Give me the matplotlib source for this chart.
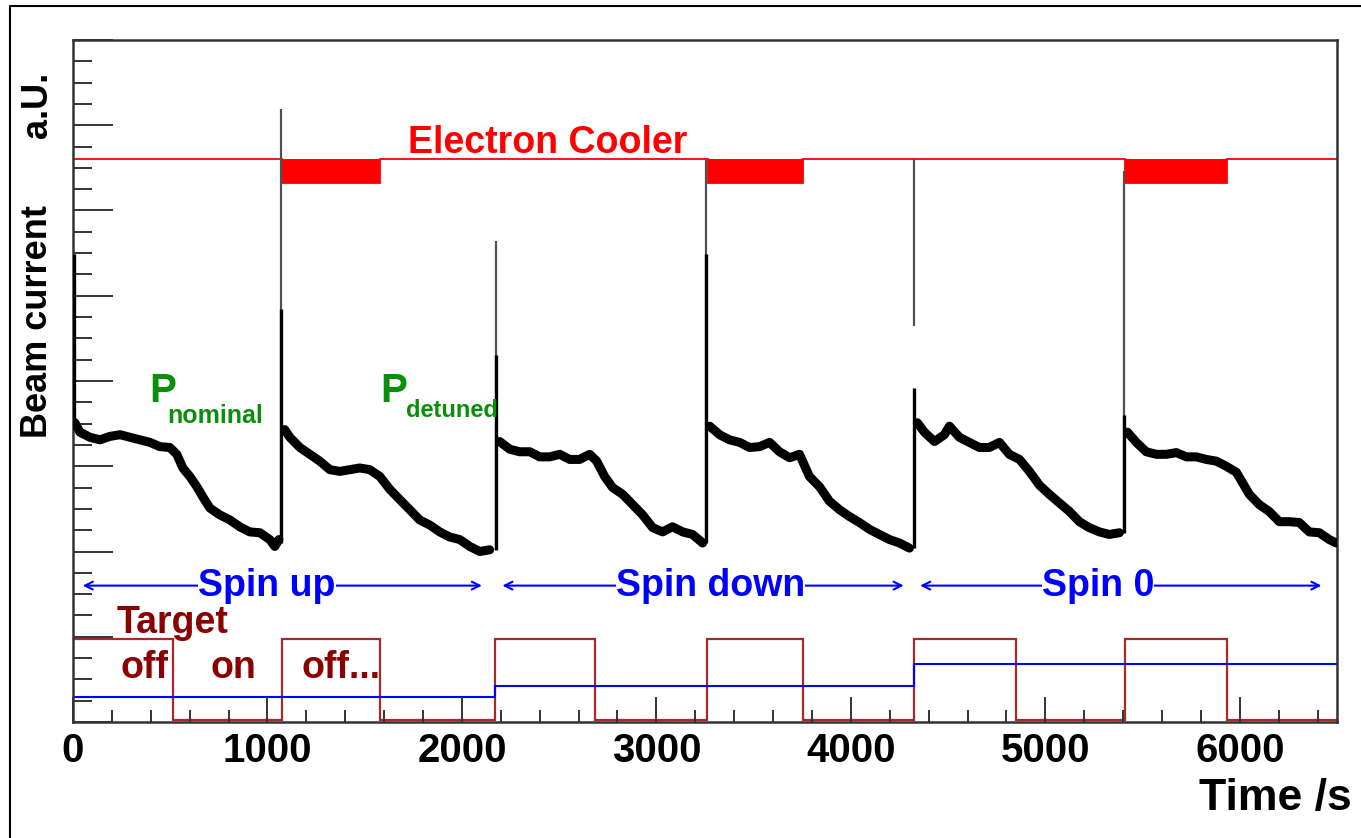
import matplotlib
matplotlib.use('Agg')
import matplotlib.pyplot as plt
from matplotlib.lines import Line2D
from matplotlib.ticker import MultipleLocator

plt.rcParams['font.family'] = ['Liberation Sans', 'DejaVu Sans']

# beam current, one run per target cycle (time in s, current in a.u.)
run_t = [
    [10, 36, 87, 139, 190, 242, 293, 344, 396, 447, 498, 534, 565, 601, 637, 668, 704, 755, 807, 858, 909, 961, 1012, 1038, 1059],
    [1089, 1115, 1167, 1218, 1269, 1321, 1372, 1424, 1475, 1526, 1578, 1629, 1680, 1732, 1783, 1835, 1886, 1937, 1989, 2040, 2092, 2143],
    [2194, 2246, 2297, 2349, 2400, 2451, 2503, 2554, 2605, 2657, 2693, 2734, 2775, 2827, 2878, 2929, 2981, 3032, 3083, 3135, 3186, 3238],
    [3274, 3325, 3376, 3428, 3479, 3531, 3582, 3633, 3685, 3736, 3787, 3839, 3890, 3942, 3993, 4044, 4096, 4147, 4199, 4250, 4301],
    [4342, 4378, 4430, 4481, 4507, 4558, 4609, 4661, 4712, 4764, 4815, 4867, 4918, 4969, 5021, 5072, 5124, 5175, 5226, 5278, 5329, 5381],
    [5422, 5468, 5519, 5571, 5622, 5674, 5725, 5776, 5828, 5879, 5930, 5982, 6013, 6049, 6100, 6151, 6203, 6254, 6306, 6357, 6409, 6460, 6496],
]
run_y = [
    [3.51, 3.40, 3.34, 3.31, 3.35, 3.37, 3.34, 3.31, 3.28, 3.23, 3.22, 3.14, 2.98, 2.88, 2.76, 2.64, 2.51, 2.43, 2.37, 2.29, 2.23, 2.22, 2.14, 2.06, 2.14],
    [3.43, 3.34, 3.22, 3.14, 3.06, 2.96, 2.94, 2.96, 2.98, 2.96, 2.88, 2.73, 2.61, 2.49, 2.37, 2.31, 2.23, 2.17, 2.14, 2.06, 2.00, 2.02],
    [3.29, 3.20, 3.17, 3.17, 3.11, 3.11, 3.14, 3.08, 3.08, 3.14, 3.06, 2.88, 2.75, 2.67, 2.55, 2.43, 2.28, 2.23, 2.29, 2.23, 2.20, 2.10],
    [3.47, 3.37, 3.31, 3.28, 3.22, 3.23, 3.28, 3.17, 3.10, 3.14, 2.88, 2.76, 2.59, 2.49, 2.41, 2.34, 2.26, 2.20, 2.14, 2.10, 2.04],
    [3.51, 3.40, 3.29, 3.37, 3.47, 3.34, 3.28, 3.22, 3.22, 3.28, 3.14, 3.08, 2.94, 2.78, 2.67, 2.57, 2.47, 2.35, 2.28, 2.23, 2.20, 2.22],
    [3.40, 3.28, 3.17, 3.14, 3.14, 3.16, 3.11, 3.11, 3.08, 3.06, 3.00, 2.93, 2.81, 2.67, 2.55, 2.47, 2.35, 2.35, 2.34, 2.23, 2.22, 2.14, 2.10],
]

# injection spikes
spike_t = [5, 1069, 2174, 3253, 4327, 5406]
spike_low = [3.50, 2.10, 2.02, 2.10, 2.04, 2.22]
spike_gray_low = [3.50, 2.10, 2.02, 2.10, 4.64, 2.22]
spike_top = [5.49, 7.19, 5.64, 6.60, 6.60, 6.46]
spike_black_top = [5.49, 4.84, 4.31, 5.49, 3.92, 3.60]

# electron cooler
cooler_edges = [0, 1074, 1578, 3268, 3756, 5411, 5935, 6500]
cooler_level = [6.60, 6.32, 6.60, 6.32, 6.60, 6.32, 6.60]

# target on/off
target_edges = [0, 514, 1074, 1578, 2172, 2682, 3258, 3756, 4325, 4851, 5411, 5935, 6500]
target_level = [0.97, 0.02] * 6

# spin state
spin_edges = [0, 2172, 4325, 6500]
spin_level = [0.29, 0.42, 0.68]
spin_names = ['Spin up', 'Spin down', 'Spin 0']
spin_start = [36, 2194, 4342]
spin_end = [2117, 4286, 6434]
spin_text_t = [997, 3278, 5272]

fig = plt.figure(figsize=(13.61, 8.38), dpi=100)
ax = fig.add_axes([0.0536, 0.1384, 0.9288, 0.8139])

ax.stairs(cooler_level, cooler_edges, baseline=max(cooler_level), fill=True, color='red', lw=0)
ax.stairs(cooler_level, cooler_edges, baseline=None, color='red', lw=1.3)

ax.stairs(target_level, target_edges, baseline=None, color='#a52a2a', lw=1.6)
ax.stairs(spin_level, spin_edges, baseline=None, color='blue', lw=1.5)

ax.vlines(spike_t, spike_gray_low, spike_top, color='#505050', lw=1.6, zorder=3)
ax.vlines(spike_t, spike_low, spike_black_top, color='black', lw=2.4, zorder=3)
for t, y in zip(run_t, run_y):
    ax.plot(t, y, color='black', lw=6.5, solid_joinstyle='round', solid_capstyle='round', zorder=4)

# spin arrows
for name, a, b, tt in zip(spin_names, spin_start, spin_end, spin_text_t):
    ax.annotate('', xy=(b, 1.60), xytext=(a, 1.60),
                arrowprops=dict(arrowstyle='<->', color='blue', lw=1.5, mutation_scale=14))
    ax.text(tt, 1.60, name, color='blue', fontsize=27, fontweight='bold', ha='center', va='center',
            bbox=dict(facecolor='white', edgecolor='none', pad=0), zorder=5)

ax.text(2441, 6.68, 'Electron Cooler', color='red', fontsize=27,
        fontweight='bold', ha='center', va='baseline')

maroon = '#8b0000'
ax.text(226, 1.05, 'Target', color=maroon, fontsize=27, fontweight='bold', va='baseline')
ax.text(242, 0.52, 'off', color=maroon, fontsize=27, fontweight='bold', va='baseline')
ax.text(709, 0.52, 'on', color=maroon, fontsize=27, fontweight='bold', va='baseline')
ax.text(1177, 0.52, 'off...', color=maroon, fontsize=27, fontweight='bold', va='baseline')

green = '#0a8f0a'
ax.text(391, 3.75, 'P', color=green, fontsize=29, fontweight='bold', va='baseline')
ax.text(483, 3.51, 'nominal', color=green, fontsize=18, fontweight='bold', va='baseline')
ax.text(1578, 3.75, 'P', color=green, fontsize=29, fontweight='bold', va='baseline')
ax.text(1712, 3.58, 'detuned', color=green, fontsize=17, fontweight='bold', va='baseline')

ax.set_xlim(0, 6500)
ax.set_ylim(0, 8)
ax.xaxis.set_major_locator(MultipleLocator(1000))
ax.xaxis.set_minor_locator(MultipleLocator(200))
ax.yaxis.set_major_locator(MultipleLocator(1))
ax.yaxis.set_minor_locator(MultipleLocator(0.25))
ax.tick_params(axis='x', which='major', direction='in', length=18, width=1.4, color='#333333',
               labelsize=29, pad=7)
ax.tick_params(axis='x', which='minor', direction='in', length=9, width=1.4, color='#333333')
ax.tick_params(axis='y', which='major', direction='in', length=29, width=1.4, color='#333333',
               labelleft=False)
ax.tick_params(axis='y', which='minor', direction='in', length=14, width=1.4, color='#333333')
for lab in ax.get_xticklabels():
    lab.set_fontweight('bold')
for s in ax.spines.values():
    s.set_color('#333333')
    s.set_linewidth(1.8)

fig.text(38 / 1361, 1 - 322 / 838, 'Beam current', rotation=90, fontsize=26, fontweight='bold',
         ha='center', va='center')
fig.text(38 / 1361, 1 - 105 / 838, 'a.U.', rotation=90, fontsize=26, fontweight='bold',
         ha='center', va='center')
fig.text(1352 / 1361, 1 - 810 / 838, 'Time /s', fontsize=32, fontweight='bold',
         ha='right', va='baseline')

# outer frame (top and left edges only)
fig.add_artist(Line2D([10 / 1361, 10 / 1361, 1], [0, 1 - 6 / 838, 1 - 6 / 838],
                      transform=fig.transFigure, color='black', lw=1.5))

fig.savefig('out.png', dpi=100)
